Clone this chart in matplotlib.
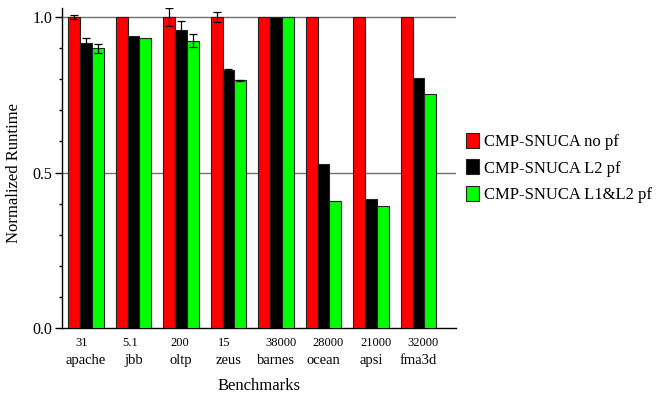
import matplotlib
matplotlib.use("Agg")
import matplotlib.pyplot as plt
import matplotlib.transforms as mtransforms
import numpy as np

plt.rcParams['font.family'] = ['Liberation Serif', 'DejaVu Serif']

benchmarks = ["apache", "jbb", "oltp", "zeus", "barnes", "ocean", "apsi", "fma3d"]
base_values = ["31", "5.1", "200", "15", "38000", "28000", "21000", "32000"]
series_names = ["CMP-SNUCA no pf", "CMP-SNUCA L2 pf", "CMP-SNUCA L1&L2 pf"]
no_pf = [1.0, 1.0, 1.0, 1.0, 1.0, 1.0, 1.0, 1.0]
l2_pf = [0.918, 0.938, 0.958, 0.830, 1.0, 0.528, 0.414, 0.803]
l1l2_pf = [0.899, 0.933, 0.924, 0.796, 1.0, 0.408, 0.391, 0.753]
no_pf_err = [0.005, 0, 0.028, 0.017, 0, 0, 0, 0]
l2_pf_err = [0.013, 0, 0.029, 0.003, 0, 0, 0, 0]
l1l2_pf_err = [0.014, 0, 0.022, 0.003, 0, 0, 0, 0]
colors = ["#ff0000", "#000000", "#00ff00"]

fig = plt.figure(figsize=(6.58, 3.94), dpi=100)
ax = fig.add_axes([62/658, 1-328/394, (456-62)/658, (328-8)/394])

x = np.arange(len(benchmarks))
w = 0.25
series = [no_pf, l2_pf, l1l2_pf]
errs = [no_pf_err, l2_pf_err, l1l2_pf_err]
handles = []
for k, (vals, e, c, name) in enumerate(zip(series, errs, colors, series_names)):
    pos = x + (k - 1) * w
    b = ax.bar(pos, vals, width=w, color=c, edgecolor="#222222", linewidth=0.8,
               label=name, zorder=3)
    handles.append(b)
    ev = np.array(e)
    mask = ev > 0
    ax.errorbar(pos[mask], np.array(vals)[mask], yerr=ev[mask], fmt='none',
                ecolor='black', elinewidth=0.9, capsize=3, capthick=0.9, zorder=4)

ax.set_xlim(-0.505, 7.79)
ax.set_ylim(0, 1.029)
for yv in [0.5, 1.0]:
    ax.axhline(yv, color="#707070", linewidth=1.0, zorder=1)

ax.spines['top'].set_visible(False)
ax.spines['right'].set_visible(False)
ax.spines['left'].set_linewidth(1.0)
ax.spines['bottom'].set_linewidth(1.0)

ax.set_yticks([0.0, 0.5, 1.0])
ax.set_yticklabels(["0.0", "0.5", "1.0"], fontsize=11.5)
ax.set_yticks(np.arange(0.1, 1.0, 0.1), minor=True)
ax.tick_params(axis='y', which='major', length=5, width=1, direction='out', pad=2)
ax.tick_params(axis='y', which='minor', length=2.5, width=1, direction='out')
ax.set_xticks([])

trans = mtransforms.blended_transform_factory(ax.transData, fig.transFigure)
for i in range(len(benchmarks)):
    ax.text(x[i] - 0.23, 1 - 346/394, base_values[i], transform=trans,
            ha='left', va='baseline', fontsize=9)
    ax.text(x[i], 1 - 364/394, benchmarks[i], transform=trans,
            ha='center', va='baseline', fontsize=10.5)

fig.text((62+456)/2/658, 1 - 390/394, "Benchmarks", ha='center', va='baseline', fontsize=12)
fig.text(14/658, 1 - 173/394, "Normalized Runtime", ha='center', va='center',
         rotation=90, fontsize=12)

fig.legend(handles=handles, labels=series_names, loc='center left',
           bbox_to_anchor=(466/658, 1 - 168/394), frameon=False, fontsize=12,
           handlelength=0.75, handleheight=1.0, handletextpad=0.3,
           labelspacing=0.55, borderpad=0, borderaxespad=0)

fig.savefig("out.png", dpi=100)
